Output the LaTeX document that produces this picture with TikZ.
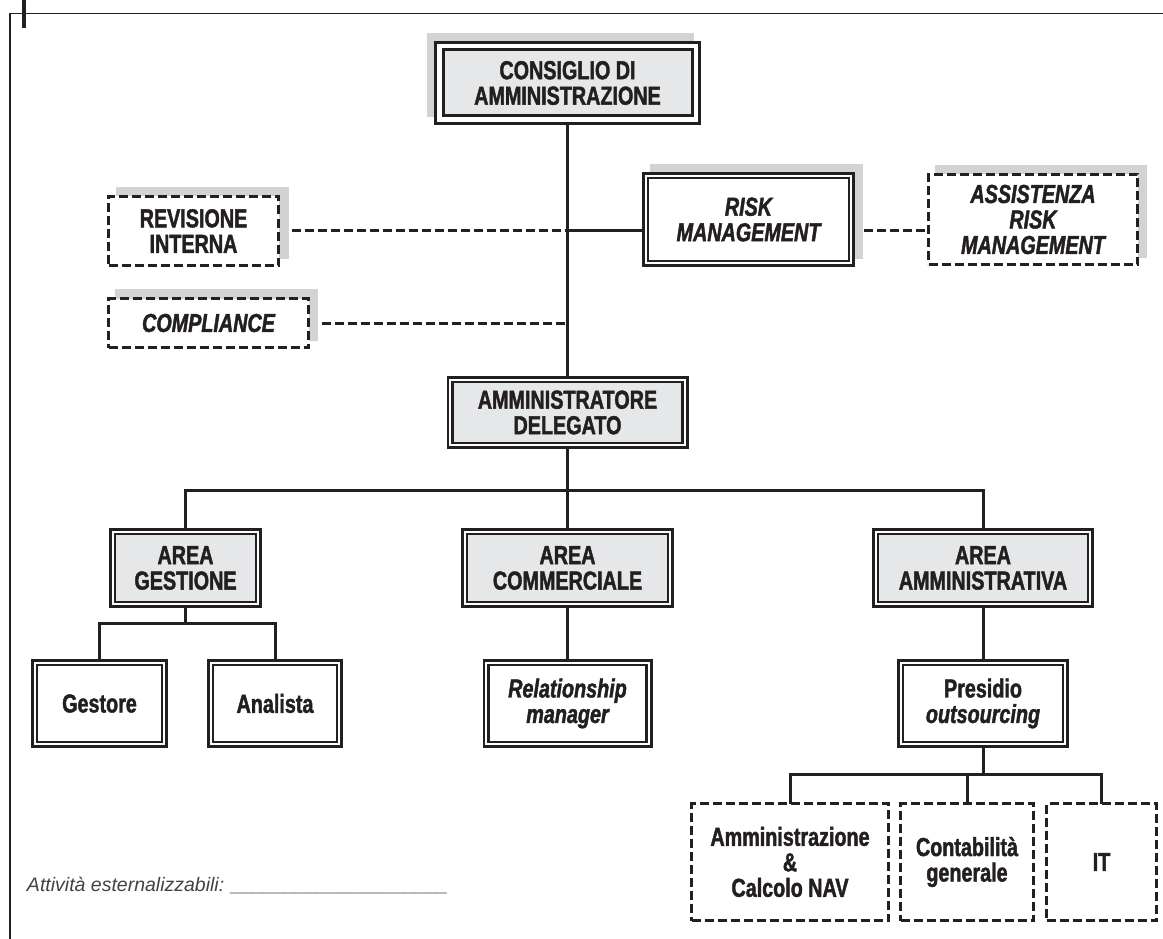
\documentclass[tikz,border=0pt]{standalone}
\usepackage{fontspec}
\setmainfont{Liberation Sans}[FakeStretch=0.76, BoldFeatures={FakeBold=1.6}, BoldItalicFeatures={FakeBold=1.6}]
\newfontfamily\plainfont{Liberation Sans}
\usetikzlibrary{backgrounds,calc}
\definecolor{ink}{HTML}{231F20}
\definecolor{boxgrey}{HTML}{E6E7E8}
\definecolor{shadowgrey}{HTML}{D1D3D4}
\newcommand{\boxshadow}[4]{\fill[shadowgrey] ([shift={({#2-#4},{#3-#4})}]#1.north west) rectangle ([shift={({#2+#4},{#3+#4})}]#1.south east);}
\begin{document}
\begin{tikzpicture}[x=1pt,y=-1pt,
  every node/.style={text=ink, font=\fontsize{26}{25.5}\selectfont\bfseries, align=center, inner sep=0pt, outer sep=0pt},
  dbox/.style={draw=ink, line width=2.6pt, double=white, double distance=2pt},
  thickbox/.style={draw=ink, line width=3pt, double=white, double distance=4.5pt},
  dashbox/.style={draw=ink, line width=3pt, dash pattern=on 9pt off 4pt, fill=white},
  link/.style={draw=ink, line width=3pt},
  dlink/.style={link, dash pattern=on 9pt off 4pt},
  sz/.style 2 args={minimum width=#1pt, minimum height=#2pt}]
\useasboundingbox (0,0) rectangle (1163,939);
% frame
\draw[ink, line width=1.5pt] (10,939) -- (10,13.5) -- (1163,13.5);
\draw[ink, line width=3.5pt] (24,0) -- (24,28);
% nodes
\node[thickbox, fill=boxgrey, sz={256.5}{73.5}] (cda) at (567.5,83) {CONSIGLIO DI\\AMMINISTRAZIONE};
\node[dashbox, sz={170}{69}] (rev) at (193.5,231) {REVISIONE\\INTERNA};
\node[dashbox, sz={200}{49}] (comp) at (208.5,323) {\itshape COMPLIANCE};
\node[dbox, fill=white, sz={205.8}{87.8}] (risk) at (748.5,219.5) {\itshape RISK\\\itshape MANAGEMENT};
\node[dashbox, sz={209}{90}] (assist) at (1033,219.5) {\itshape ASSISTENZA\\\itshape RISK\\\itshape MANAGEMENT};
\node[dbox, fill=boxgrey, sz={234.8}{65.8}] (ad) at (567.5,412.5) {AMMINISTRATORE\\DELEGATO};
\node[dbox, fill=boxgrey, sz={145.8}{72.8}] (ag) at (185.5,568) {AREA\\GESTIONE};
\node[dbox, fill=boxgrey, sz={205.8}{72.8}] (ac) at (567.5,568) {AREA\\COMMERCIALE};
\node[dbox, fill=boxgrey, sz={214.8}{72.8}] (aa) at (983,568) {AREA\\AMMINISTRATIVA};
\node[dbox, fill=white, sz={129.8}{81.8}] (ges) at (99.5,703.5) {Gestore};
\node[dbox, fill=white, sz={128.8}{81.8}] (ana) at (275,703.5) {Analista};
\node[dbox, fill=white, sz={162.8}{81.8}] (rel) at (567.5,703.5) {\itshape Relationship\\\itshape manager};
\node[dbox, fill=white, sz={164.8}{81.8}] (pre) at (983,703.5) {Presidio\\\itshape outsourcing};
\node[dashbox, sz={197}{117}] (amm) at (790,862) {Amministrazione\\\&\\Calcolo NAV};
\node[dashbox, sz={133}{117}] (cont) at (967,862) {Contabilità\\generale};
\node[dashbox, sz={110}{117}] (itbox) at (1101.5,862) {IT};
\node[anchor=west, font=\plainfont\fontsize{19.5}{20}\selectfont\itshape, text=ink!85] (note) at (27,886) {Attività esternalizzabili: \_\_\_\_\_\_\_\_\_\_\_\_\_\_\_\_\_\_\_\_};
% junctions
\coordinate (j1) at (rev.east -| cda.south);
\coordinate (j2) at (comp.east -| cda.south);
\coordinate (b0) at (567.5,490);
\coordinate (b1) at (185.5,623);
\coordinate (b2) at (983,774);
\begin{scope}[on background layer]
  \draw[link] (cda.south) -- (ad.north);
  \draw[dlink] (rev.east) -- (j1);
  \draw[link] (j1) -- (j1 -| risk.west);
  \draw[dlink] (j1 -| risk.east) -- (j1 -| assist.west);
  \draw[dlink] (comp.east) -- (j2);
  \draw[link] (ad.south) -- (b0);
  \draw[link] (ag.north) -- (ag.north |- b0) -- (aa.north |- b0) -- (aa.north);
  \draw[link] (b0) -- (ac.north);
  \draw[link] (ag.south) -- (b1);
  \draw[link] (ges.north) -- (ges.north |- b1) -- (ana.north |- b1) -- (ana.north);
  \draw[link] (ac.south) -- (rel.north);
  \draw[link] (aa.south) -- (pre.north);
  \draw[link] (pre.south) -- (b2);
  \draw[link] (amm.north) -- (amm.north |- b2) -- (itbox.north |- b2) -- (itbox.north);
  \draw[link] (cont.north) -- (cont.north |- b2);
  % shadows
  \boxshadow{cda}{-7}{-8}{5.25}
  \boxshadow{rev}{9}{-8}{1.5}
  \boxshadow{comp}{8}{-8}{1.5}
  \boxshadow{risk}{8}{-8}{3.6}
  \boxshadow{assist}{8}{-8}{1.5}
\end{scope}
\end{tikzpicture}
\end{document}
